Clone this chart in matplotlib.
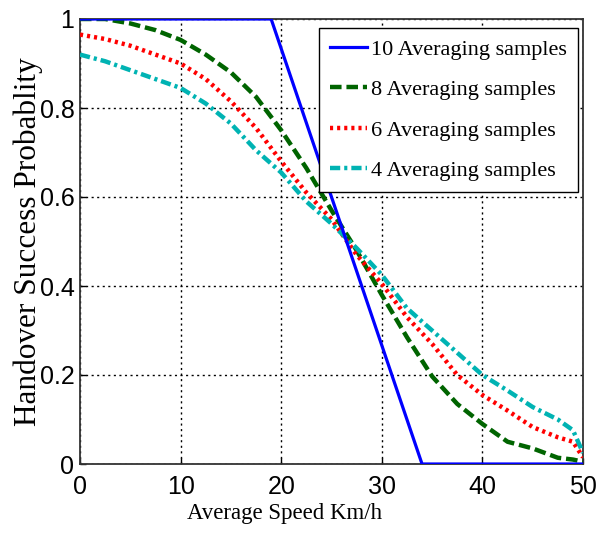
import matplotlib
matplotlib.use("Agg")
import matplotlib.pyplot as plt

speed_10 = [0, 19, 34, 50]
prob_10 = [1.0, 1.0, 0.0, 0.0]

speed = [0, 2.5, 5, 7.5, 10, 12.5, 15, 17.5, 20, 22.5, 25, 27.5, 30, 32.5, 35, 37.5, 40, 42.5, 45, 47.5, 49, 50]
prob_8 = [1.0, 1.0, 0.99, 0.975, 0.953, 0.92, 0.88, 0.825, 0.75, 0.665, 0.57, 0.48, 0.38, 0.285, 0.197, 0.135, 0.09, 0.05, 0.035, 0.014, 0.01, 0.005]
prob_6 = [0.965, 0.955, 0.94, 0.92, 0.9, 0.865, 0.815, 0.755, 0.68, 0.61, 0.55, 0.47, 0.405, 0.33, 0.27, 0.2, 0.155, 0.12, 0.083, 0.06, 0.05, 0.015]
prob_4 = [0.92, 0.905, 0.885, 0.865, 0.845, 0.81, 0.765, 0.705, 0.655, 0.59, 0.54, 0.485, 0.425, 0.35, 0.3, 0.25, 0.2, 0.165, 0.128, 0.1, 0.076, 0.025]

labels = ["10 Averaging samples", "8 Averaging samples", "6 Averaging samples", "4 Averaging samples"]
xticks = [0, 10, 20, 30, 40, 50]
yticks = [0, 0.2, 0.4, 0.6, 0.8, 1]
ytick_labels = ["0", "0.2", "0.4", "0.6", "0.8", "1"]

fig = plt.figure(figsize=(6.04, 5.36), dpi=100)
ax = fig.add_axes([80/604, 1-464/536, 503/604, 445/536])

ax.plot(speed_10, prob_10, color="#0000ff", lw=2.3, ls="-", label=labels[0], zorder=5)
ax.plot(speed, prob_8, color="#006400", lw=3.2, ls=(0, (2.6, 1.1)), label=labels[1], zorder=4)
ax.plot(speed, prob_6, color="#ff0000", lw=3.2, ls=(0, (0.7, 0.9)), label=labels[2], zorder=4)
ax.plot(speed, prob_4, color="#00b3b3", lw=3.2, ls=(0, (2.3, 0.9, 0.7, 0.9)), label=labels[3], zorder=4)

ax.set_xlim(0, 50)
ax.set_ylim(0, 1)
ax.set_xticks(xticks)
ax.set_yticks(yticks)
ax.set_yticklabels(ytick_labels)
for lab in ax.get_xticklabels() + ax.get_yticklabels():
    lab.set_fontfamily("Liberation Sans")
    lab.set_fontsize(18)
ax.tick_params(axis="y", direction="in", length=4, width=1, pad=4)
ax.tick_params(axis="x", direction="in", length=4, width=1, pad=8)
ax.grid(True, color="black", ls=(0, (1.5, 2.5)), lw=1.0)
for s in ax.spines.values():
    s.set_linewidth(1.3)
    s.set_color("#333333")

ax.set_xlabel("Average Speed Km/h", fontfamily="Liberation Serif", fontsize=16.5)
ax.xaxis.set_label_coords((285 - 80) / 503, -(503 - 464) / 445)
ax.set_ylabel("Handover Success Probablity", fontfamily="Liberation Serif", fontsize=22.5)
ax.yaxis.set_label_coords(-(80 - 43) / 503, 0.5)

leg = ax.legend(loc="upper right", bbox_to_anchor=(0.99, 0.98), prop={"family": "Liberation Serif", "size": 16},
                frameon=True, fancybox=False, framealpha=1, edgecolor="black", borderpad=0.5,
                labelspacing=0.9, handlelength=1.65, handletextpad=0.2, borderaxespad=0.0)
leg.get_frame().set_linewidth(1.0)

fig.savefig("out.png", dpi=100)
